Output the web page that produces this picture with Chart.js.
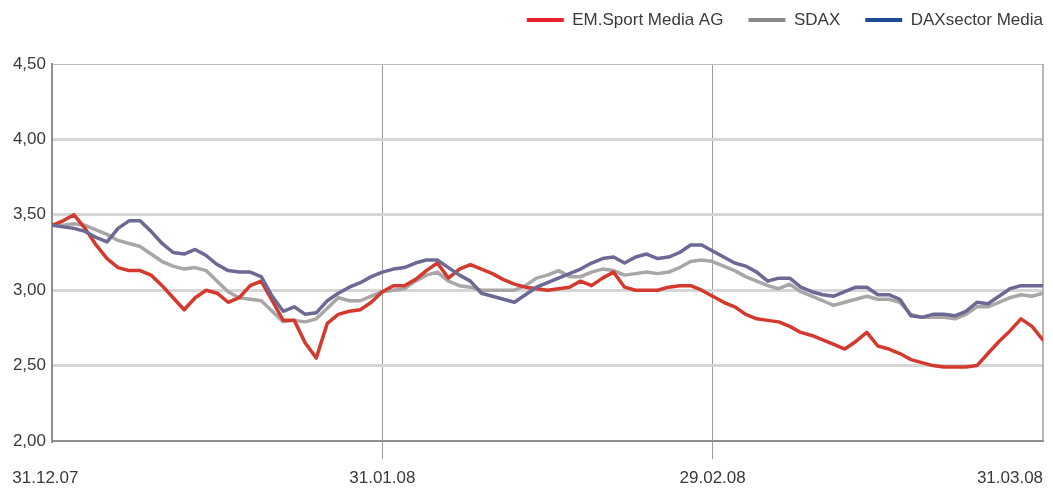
<!DOCTYPE html>
<html>
<head>
<meta charset="utf-8">
<script src="https://cdn.jsdelivr.net/npm/chart.js@4.4.1/dist/chart.umd.min.js"></script>
<style>
  html, body { margin: 0; padding: 0; background: #fff; }
  #wrap { position: relative; width: 1053px; height: 489px; }
</style>
</head>
<body>
<div id="wrap"><canvas id="kurs"></canvas></div>
<script>
const seriesNames = ["EM.Sport Media AG", "SDAX", "DAXsector Media"];
const tickLabels = ["31.12.07", "31.01.08", "29.02.08", "31.03.08"];
const tickDays = [0, 30, 60, 90];

const emSport = [
  3.43, 3.46, 3.50, 3.41, 3.30, 3.21, 3.15, 3.13, 3.13, 3.10,
  3.03, 2.95, 2.87, 2.95, 3.00, 2.98, 2.92, 2.95, 3.03, 3.06,
  2.93, 2.80, 2.80, 2.65, 2.55, 2.78, 2.84, 2.86, 2.87, 2.92,
  2.99, 3.03, 3.03, 3.07, 3.13, 3.18, 3.08, 3.14, 3.17, 3.14,
  3.11, 3.07, 3.04, 3.02, 3.01, 3.00, 3.01, 3.02, 3.06, 3.03,
  3.08, 3.12, 3.02, 3.00, 3.00, 3.00, 3.02, 3.03, 3.03, 3.00,
  2.96, 2.92, 2.89, 2.84, 2.81, 2.80, 2.79, 2.76, 2.72, 2.70,
  2.67, 2.64, 2.61, 2.66, 2.72, 2.63, 2.61, 2.58, 2.54, 2.52,
  2.50, 2.49, 2.49, 2.49, 2.50, 2.58, 2.66, 2.73, 2.81, 2.76,
  2.67
];
const sdax = [
  3.43, 3.43, 3.44, 3.43, 3.40, 3.37, 3.33, 3.31, 3.29, 3.24,
  3.19, 3.16, 3.14, 3.15, 3.13, 3.06, 2.99, 2.95, 2.94, 2.93,
  2.86, 2.79, 2.80, 2.79, 2.81, 2.88, 2.95, 2.93, 2.93, 2.96,
  2.99, 3.00, 3.01, 3.06, 3.10, 3.12, 3.06, 3.03, 3.02, 3.00,
  3.00, 3.00, 3.00, 3.03, 3.08, 3.10, 3.13, 3.09, 3.09, 3.12,
  3.14, 3.13, 3.10, 3.11, 3.12, 3.11, 3.12, 3.15, 3.19, 3.20,
  3.19, 3.16, 3.13, 3.09, 3.06, 3.03, 3.01, 3.04, 2.99, 2.96,
  2.93, 2.90, 2.92, 2.94, 2.96, 2.94, 2.94, 2.92, 2.84, 2.82,
  2.82, 2.82, 2.81, 2.84, 2.89, 2.89, 2.92, 2.95, 2.97, 2.96,
  2.98
];
const daxMedia = [
  3.43, 3.42, 3.41, 3.39, 3.35, 3.32, 3.41, 3.46, 3.46, 3.39,
  3.31, 3.25, 3.24, 3.27, 3.23, 3.17, 3.13, 3.12, 3.12, 3.09,
  2.96, 2.86, 2.89, 2.84, 2.85, 2.93, 2.98, 3.02, 3.05, 3.09,
  3.12, 3.14, 3.15, 3.18, 3.20, 3.20, 3.15, 3.10, 3.06, 2.98,
  2.96, 2.94, 2.92, 2.97, 3.02, 3.05, 3.08, 3.11, 3.14, 3.18,
  3.21, 3.22, 3.18, 3.22, 3.24, 3.21, 3.22, 3.25, 3.30, 3.30,
  3.26, 3.22, 3.18, 3.16, 3.12, 3.06, 3.08, 3.08, 3.02, 2.99,
  2.97, 2.96, 2.99, 3.02, 3.02, 2.97, 2.97, 2.94, 2.83, 2.82,
  2.84, 2.84, 2.83, 2.86, 2.92, 2.91, 2.96, 3.01, 3.03, 3.03,
  3.03
];
const sampleDays = emSport.map((_, i) => i);

const lineColors = ["#d3392d", "#aaa6a7", "#6c6995"];
const legendColors = ["#e8212a", "#8a8a8c", "#1d4c94"];
// first and last date labels sit a bit inside, like in the print layout
const labelNudge = [-0.6, 0, 0, -3];

const fontFamily = "'Liberation Sans', Arial, sans-serif";
const textColor = "#3a3a3a";

// right frame line of the plot box
const frame = {
  id: "frame",
  beforeDatasetsDraw(chart) {
    const { ctx, chartArea: { top, bottom, right } } = chart;
    ctx.save();
    ctx.strokeStyle = "#a0a0a0";
    ctx.lineWidth = 1.5;
    ctx.beginPath();
    ctx.moveTo(right, top);
    ctx.lineTo(right, bottom);
    ctx.stroke();
    ctx.restore();
  },
};

// legend sits flush right and higher than chart.js puts it
const legendPlacement = {
  id: "legendPlacement",
  afterLayout(chart) {
    const lg = chart.legend;
    const pad = lg.options.labels.padding;
    const size = lg.options.labels.font.size;
    lg.right = chart.width + pad - 10;
    lg.top = 20 - pad - size / 2;
  },
};

const ctx = document.getElementById("kurs").getContext("2d");
new Chart(ctx, {
  type: "line",
  data: {
    labels: sampleDays,
    datasets: [
      { label: seriesNames[0], data: emSport, borderColor: lineColors[0], order: 1 },
      { label: seriesNames[1], data: sdax, borderColor: lineColors[1], order: 2 },
      { label: seriesNames[2], data: daxMedia, borderColor: lineColors[2], order: 0 },
    ],
  },
  options: {
    responsive: true,
    maintainAspectRatio: false,
    animation: false,
    layout: { padding: { top: 12, right: 10, left: 0, bottom: 0 } },
    elements: {
      line: { borderWidth: 3.5, tension: 0, borderJoinStyle: "round", borderCapStyle: "round" },
      point: { radius: 0, hoverRadius: 0 },
    },
    scales: {
      x: {
        type: "linear",
        min: 0,
        max: 90,
        afterBuildTicks(scale) {
          scale.ticks = tickDays.map((d, i) => ({ value: d + labelNudge[i] }));
        },
        afterFit(scale) {
          scale.height = 48;
        },
        ticks: {
          autoSkip: false,
          maxRotation: 0,
          padding: 9,
          color: textColor,
          font: { family: fontFamily, size: 17 },
          callback: (value, index) => tickLabels[index],
        },
        grid: {
          drawOnChartArea: true,
          tickLength: 18,
          lineWidth: 1,
          color: (c) => (c.index === 1 || c.index === 2 ? "#9d9d9d" : "rgba(0,0,0,0)"),
        },
        border: { color: "#8f8f8f", width: 2 },
      },
      y: {
        min: 2,
        max: 4.5,
        afterFit(scale) {
          scale.width = 52;
        },
        ticks: {
          stepSize: 0.5,
          padding: 6,
          color: textColor,
          font: { family: fontFamily, size: 17 },
          callback: (v) => v.toFixed(2).replace(".", ","),
        },
        grid: {
          drawTicks: false,
          lineWidth: (c) => (c.tick.value === 4.5 ? 1 : 3),
          color: (c) => {
            if (c.tick.value === 2) return "rgba(0,0,0,0)";
            if (c.tick.value === 4.5) return "#bdbdbd";
            return "#d6d6d6";
          },
        },
        border: { color: "#8f8f8f", width: 2 },
      },
    },
    plugins: {
      tooltip: { enabled: false },
      legend: {
        position: "top",
        align: "end",
        labels: {
          boxWidth: 37,
          boxHeight: 4,
          padding: 25,
          color: textColor,
          font: { family: fontFamily, size: 17 },
          generateLabels: () =>
            seriesNames.map((name, i) => ({
              text: name,
              fillStyle: legendColors[i],
              strokeStyle: legendColors[i],
              lineWidth: 0,
              hidden: false,
              datasetIndex: i,
              fontColor: textColor,
            })),
        },
      },
    },
  },
  plugins: [frame, legendPlacement],
});
</script>
</body>
</html>
